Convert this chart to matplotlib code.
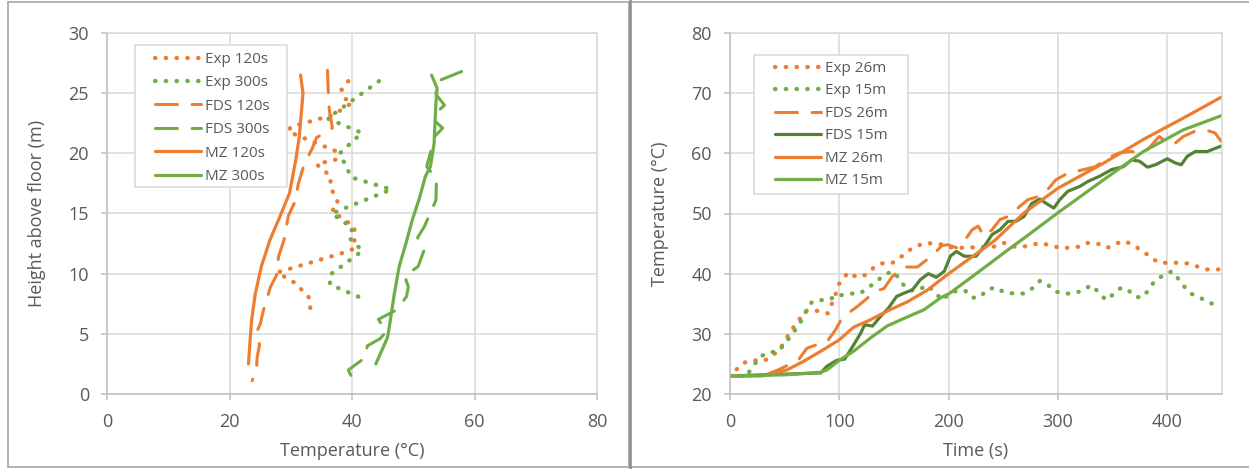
import matplotlib
matplotlib.use("Agg")
import matplotlib.pyplot as plt
from matplotlib.patches import Rectangle

plt.rcParams['font.family'] = ['Open Sans', 'DejaVu Sans']

ORANGE = '#ED7D31'
GREEN = '#70AD47'
DKGREEN = '#548235'
TXT = '#595959'
GRID = '#d9d9d9'

# ---- left panel: vertical profiles (temperature, height) ----
exp120_T = [39.4, 38.3, 38.7, 40.0, 37.0, 30.0, 29.6, 37.3, 37.5, 34.2, 36.5, 36.5,
            37.8, 36.7, 40.4, 40.4, 39.0, 27.8, 30.8, 33.0, 33.2]
exp120_h = [26.0, 25.3, 24.6, 24.2, 23.2, 22.2, 21.8, 20.2, 19.5, 19.1, 18.1, 17.2,
            15.8, 15.2, 13.9, 12.1, 11.8, 10.1, 9.2, 8.0, 7.1]

exp300_T = [44.4, 36.0, 41.6, 38.0, 39.9, 46.4, 36.7, 40.1, 39.5, 41.7, 36.4, 36.4, 41.0, 41.4]
exp300_h = [26.0, 22.9, 21.7, 20.0, 18.0, 17.0, 15.0, 13.8, 13.0, 11.9, 9.9, 9.1, 8.1, 7.6]

fds120_T = [36.0, 36.1, 36.3, 36.8, 34.2, 33.5, 32.2, 31.2, 30.8, 29.6, 28.9, 28.0, 27.7,
            26.7, 25.7, 25.0, 24.4, 24.9, 24.5, 24.4, 23.7]
fds120_h = [26.9, 25.4, 23.6, 22.1, 21.3, 20.4, 19.1, 17.4, 16.1, 14.8, 12.8, 11.4, 9.9,
            8.9, 7.3, 5.8, 5.1, 4.1, 3.0, 2.0, 1.1]

fds300_T = [57.9, 54.0, 53.7, 55.1, 53.8, 53.5, 54.8, 53.5, 53.0, 52.4, 52.2, 53.8, 53.7, 51.8,
            50.7, 51.8, 50.8, 48.6, 49.2, 48.9, 47.3, 44.3, 45.6, 44.6, 42.5, 42.1, 39.4, 40.2]
fds300_h = [26.8, 26.0, 24.9, 24.0, 23.4, 22.7, 22.1, 21.4, 20.4, 19.3, 18.9, 17.9, 16.1, 13.9,
            13.0, 12.0, 10.6, 9.8, 8.9, 8.1, 7.0, 6.2, 5.2, 4.6, 4.0, 3.0, 2.0, 1.1]

mz120_T = [31.6, 32.0, 31.4, 30.8, 29.8, 28.2, 26.6, 25.2, 24.2, 23.6, 23.4, 23.1]
mz120_h = [26.5, 25.0, 21.4, 19.4, 16.7, 14.7, 12.8, 10.6, 8.3, 6.1, 4.7, 2.5]

mz300_T = [53.0, 53.9, 53.7, 53.4, 52.8, 52.0, 50.9, 49.8, 48.8, 47.7, 46.9, 46.1, 45.8, 43.9]
mz300_h = [26.5, 25.4, 24.2, 20.8, 18.9, 18.1, 16.1, 14.4, 12.5, 10.6, 8.3, 5.6, 4.7, 2.5]

# ---- right panel: time histories ----
exp26_t = [6.1, 12.8, 21.4, 31.2, 39.1, 45.9, 55, 60.6, 69.1, 74, 82.6, 89.6, 96.3, 99.4, 108,
           116.2, 124, 130.9, 139.1, 147.7, 155.4, 162, 169.7, 178.3, 186.9, 196, 203.3, 214.2,
           241.5, 250.6, 259.7, 268.9, 276.1, 283.4, 290.7, 301.6, 310.7, 319.9, 327.1, 336.2,
           345.3, 352.6, 361.7, 370.8, 378.1, 385.4, 392.7, 401.8, 410.9, 418.2, 427.3, 436.4, 447.4]
exp26_T = [24.1, 25.2, 25.6, 25.5, 26.4, 27.5, 30.3, 31.7, 33.8, 34.0, 33.7, 33.4, 36.4, 38.2, 40.2,
           39.4, 39.8, 40.9, 41.7, 41.7, 42.6, 43.7, 44.5, 45.1, 45.0, 44.8, 44.3, 44.3,
           44.5, 45.1, 44.5, 44.5, 44.8, 45.1, 44.8, 44.3, 44.3, 44.5, 45.1, 45.0,
           44.3, 45.0, 45.4, 44.5, 43.7, 42.6, 41.8, 41.8, 41.8, 41.7, 41.2, 40.7, 40.7]

exp15_t = [8.6, 16.8, 22.0, 27.5, 35.2, 44.3, 49.8, 55.0, 60.6, 65.7, 69.7, 74.9, 83.2, 91.7, 96.3,
           100.9, 110, 118.7, 126, 133, 140.7, 148.3, 154.4, 159.6, 165.1, 173.4, 181, 188, 194.8,
           200.3, 208, 215.6, 221.7, 228.7, 235.5, 243.1, 250.8, 259.9, 269.1, 276.8, 283.5, 290,
           296.6, 305.2, 314, 322.6, 330.3, 337.3, 344, 350.8, 357.8, 364.5, 371.6, 377.7, 383.2,
           388.4, 396, 404.3, 409.8, 415.3, 421.4, 429.7, 437.9, 445.9]
exp15_T = [23.0, 23.5, 24.8, 26.2, 26.9, 27.1, 28.3, 29.5, 30.9, 32.3, 33.8, 35.3, 35.6, 35.7, 36.4,
           36.4, 36.7, 36.7, 37.6, 38.6, 39.7, 40.4, 39.3, 37.9, 37.2, 37.4, 38.1, 36.7, 35.6,
           36.7, 37.2, 37.1, 36.0, 36.1, 37.4, 37.7, 36.9, 36.7, 36.7, 37.6, 38.8, 38.3,
           37.1, 36.7, 36.7, 37.2, 38.1, 36.9, 35.6, 36.6, 37.7, 37.2, 36.1, 36.1, 37.4,
           38.8, 39.7, 40.4, 39.2, 37.9, 36.7, 36.0, 35.3, 34.5]

fds26_t = [0, 30, 44, 52, 62.7, 70.3, 82.6, 88.7, 96.3, 102.4, 110, 116.2, 125.4, 134.6, 140.7,
           148.3, 157.5, 171.3, 185, 194, 199.6, 207, 214.2, 221.5, 227, 232.4, 239.7, 247, 254.3,
           265.2, 272.5, 283.4, 290.7, 298, 309, 323.5, 334.4, 345.3, 356.3, 367.2, 374.5, 381.8,
           392.7, 400, 407.3, 414.6, 425.5, 436.4, 443.6, 449.2]
fds26_T = [23.0, 23.0, 24.0, 24.7, 25.7, 27.6, 28.4, 28.7, 30.6, 32.6, 33.7, 34.5, 35.9, 37.2, 37.5,
           39.5, 41.1, 41.1, 43.0, 44.7, 44.8, 44.3, 45.4, 47.3, 47.9, 46.2, 47.3, 49.0, 49.5,
           51.2, 52.3, 52.9, 54.0, 55.6, 56.7, 57.3, 57.8, 59.2, 60.1, 60.3, 60.1, 60.6,
           62.8, 61.7, 61.7, 62.8, 63.7, 63.8, 63.4, 62.0]

fds15_t = [0, 83, 88.5, 97.6, 104.9, 112.2, 119.5, 123.1, 130.4, 137.7, 145, 152.3, 159.6, 166.8,
           174.1, 181.4, 188.7, 196, 201.5, 207, 214.2, 225.1, 232.4, 239.7, 247, 254.3, 261.6,
           268.9, 276.1, 283.4, 290.7, 296.2, 301.6, 309, 319.9, 327.1, 338.1, 349, 360, 367.2,
           374.5, 381.8, 389.1, 400, 407.3, 412.7, 418.2, 425.5, 436.4, 449.2]
fds15_T = [23.0, 23.5, 24.6, 25.6, 25.8, 27.9, 30.1, 31.5, 31.3, 32.9, 34.3, 36.2, 36.8, 37.3,
           39.0, 40.0, 39.4, 40.4, 42.9, 43.7, 42.9, 42.9, 44.5, 46.5, 47.3, 48.7, 48.7,
           49.5, 51.7, 52.4, 51.5, 50.9, 52.3, 53.7, 54.5, 55.3, 56.2, 57.3, 57.8, 58.9,
           58.7, 57.7, 58.1, 59.1, 58.4, 58.1, 59.5, 60.3, 60.3, 61.2]

mz26_t = [0, 30, 52, 67, 83, 100, 113, 128, 144, 162, 180, 200, 223, 242, 269, 300, 342, 378, 415, 450]
mz26_T = [23.0, 23.0, 24.0, 25.4, 27.1, 29.0, 31.1, 32.3, 33.8, 35.3, 37.2, 40.0, 43.0, 45.5,
          50.1, 54.2, 58.4, 62.3, 65.9, 69.4]

mz15_t = [0, 52, 82.6, 88.7, 100, 113, 128.4, 143.7, 162, 177.4, 192.7, 200.6, 217, 235.5, 253.8,
          268.9, 299.8, 341.7, 378.1, 414.6, 450]
mz15_T = [23.0, 23.2, 23.6, 24.0, 25.6, 27.1, 29.3, 31.3, 32.8, 34.0, 36.0, 36.7, 38.9, 41.4, 43.9,
          45.9, 50.1, 55.6, 60.3, 63.9, 66.3]

W, H = 1249, 469
fig = plt.figure(figsize=(W / 100, H / 100), dpi=100)


def px_rect(x0, y0, x1, y1, **kw):
    # rectangle given in image pixels (y down), in figure coordinates
    return Rectangle((x0 / W, 1 - y1 / H), (x1 - x0) / W, (y1 - y0) / H,
                     transform=fig.transFigure, **kw)


# panel frames
fig.patches.append(px_rect(8, 2, 629, 467, fill=False, edgecolor='#a6a6a6', lw=1.2))
fig.patches.append(px_rect(630, 2, 1255, 467, fill=False, edgecolor='#a6a6a6', lw=1.2))
fig.add_artist(plt.Line2D([629.5 / W, 629.5 / W], [0, 1], transform=fig.transFigure,
                          color='#8c8c8c', lw=1.8))

DOT = dict(linestyle=(0, (0.1, 2.4)), dash_capstyle='round', lw=3.1)
DASH = dict(linestyle=(0, (7.2, 4.8)), dash_capstyle='round', lw=2.2)
SOLID = dict(linestyle='-', lw=2.3, solid_capstyle='round')


def style(ax):
    ax.grid(True, color=GRID, lw=1.1)
    ax.set_axisbelow(True)
    for s in ['top', 'right']:
        ax.spines[s].set_color(GRID)
        ax.spines[s].set_linewidth(1.1)
    for s in ['left', 'bottom']:
        ax.spines[s].set_color('#bfbfbf')
        ax.spines[s].set_linewidth(1.1)
    ax.tick_params(direction='out', length=4.5, width=1.1, color='#bfbfbf',
                   labelcolor=TXT, labelsize=13)
    ax.tick_params(axis='y', pad=8.5)
    ax.tick_params(axis='x', pad=9)


def legend(ax, box, hx, top, spacing):
    frame = px_rect(*box, facecolor='white', edgecolor=GRID, lw=1.1, zorder=4)
    frame.set_clip_on(False)
    ax.add_patch(frame)
    leg = ax.legend(loc='upper left', bbox_to_anchor=(hx / W, 1 - top / H),
                    bbox_transform=fig.transFigure, fontsize=11, frameon=False,
                    handlelength=3.0, handletextpad=0.25, labelspacing=spacing,
                    borderpad=0, borderaxespad=0)
    leg.set_zorder(6)
    for t in leg.get_texts():
        t.set_color(TXT)


ax1 = fig.add_axes([107 / W, 75 / H, 490 / W, 361 / H])
ax1.plot(exp120_T, exp120_h, color=ORANGE, label='Exp 120s', **DOT)
ax1.plot(exp300_T, exp300_h, color=GREEN, label='Exp 300s', **DOT)
ax1.plot(fds120_T, fds120_h, color=ORANGE, label='FDS 120s', **DASH)
ax1.plot(fds300_T, fds300_h, color=GREEN, label='FDS 300s', **DASH)
ax1.plot(mz120_T, mz120_h, color=ORANGE, label='MZ 120s', **SOLID)
ax1.plot(mz300_T, mz300_h, color=GREEN, label='MZ 300s', **SOLID)
ax1.set_xlim(0, 80)
ax1.set_ylim(0, 30)
ax1.set_xticks([0, 20, 40, 60, 80])
ax1.set_yticks([0, 5, 10, 15, 20, 25, 30])
style(ax1)
ax1.set_xlabel('Temperature (°C)', fontsize=13, color=TXT, labelpad=8)
ax1.set_ylabel('Height above floor (m)', fontsize=13, color=TXT, labelpad=16)
legend(ax1, (135, 45, 287, 187), 155, 52, 0.55)

ax2 = fig.add_axes([730 / W, 75 / H, 492 / W, 361 / H])
ax2.plot(exp26_t, exp26_T, color=ORANGE, label='Exp 26m', **DOT)
ax2.plot(exp15_t, exp15_T, color=GREEN, label='Exp 15m', **DOT)
ax2.plot(fds26_t, fds26_T, color=ORANGE, label='FDS 26m', **DASH)
ax2.plot(fds15_t, fds15_T, color=DKGREEN, label='FDS 15m', **SOLID)
ax2.plot(mz26_t, mz26_T, color=ORANGE, label='MZ 26m', **SOLID)
ax2.plot(mz15_t, mz15_T, color=GREEN, label='MZ 15m', **SOLID)
ax2.set_xlim(0, 450)
ax2.set_ylim(20, 80)
ax2.set_xticks([0, 100, 200, 300, 400])
ax2.set_yticks([20, 30, 40, 50, 60, 70, 80])
style(ax2)
ax2.set_xlabel('Time (s)', fontsize=13, color=TXT, labelpad=8)
ax2.set_ylabel('Temperature (°C)', fontsize=13, color=TXT, labelpad=16)
legend(ax2, (754, 55, 908, 194), 775, 61, 0.49)

fig.savefig('out.png', dpi=100)
